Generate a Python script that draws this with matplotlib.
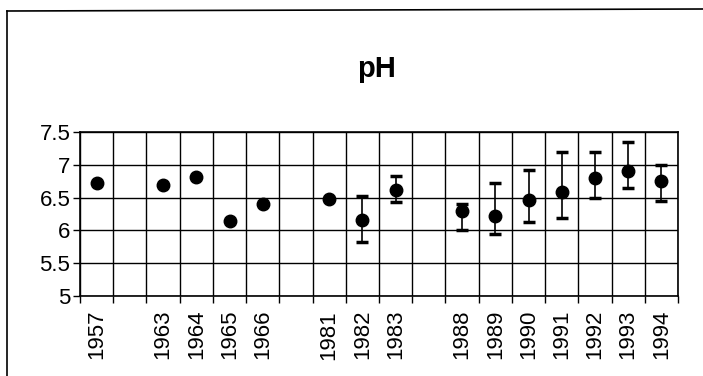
import matplotlib.pyplot as plt
import numpy as np
from matplotlib.lines import Line2D

# categories ('' = empty slot on the axis)
years = ['1957', '', '1963', '1964', '1965', '1966', '', '1981', '1982', '1983', '',
         '1988', '1989', '1990', '1991', '1992', '1993', '1994']
ph_mean = [6.72, np.nan, 6.69, 6.81, 6.14, 6.40, np.nan, 6.48, 6.16, 6.61, np.nan,
           6.29, 6.22, 6.46, 6.59, 6.80, 6.91, 6.75]
ph_low = [6.72, np.nan, 6.69, 6.81, 6.14, 6.40, np.nan, 6.46, 5.82, 6.43, np.nan,
          6.01, 5.95, 6.13, 6.19, 6.49, 6.65, 6.45]
ph_high = [6.72, np.nan, 6.69, 6.81, 6.14, 6.40, np.nan, 6.50, 6.52, 6.83, np.nan,
           6.41, 6.73, 6.92, 7.19, 7.19, 7.35, 6.99]

plt.rcParams['font.family'] = ['Liberation Sans', 'DejaVu Sans']

fig = plt.figure(figsize=(7.03, 3.76), dpi=100)
ax = fig.add_axes([80 / 703, 1 - 296 / 376, 598 / 703, 164 / 376])

x = np.arange(len(years))
mean = np.array(ph_mean)
yerr = np.vstack([mean - np.array(ph_low), np.array(ph_high) - mean])

ax.errorbar(x, mean, yerr=yerr, fmt='o', color='black', markersize=9,
            ecolor='black', elinewidth=1.2, capsize=4.3, capthick=2.5, zorder=3)

ax.set_xlim(-0.5, len(years) - 0.5)
ax.set_ylim(5, 7.5)
ax.set_yticks(np.arange(5, 7.51, 0.5))
ax.set_yticklabels(['5', '5.5', '6', '6.5', '7', '7.5'], fontsize=16)

ax.set_xticks(x)
ax.set_xticklabels(years, rotation=90, fontsize=16)
ax.set_xticks(np.arange(-0.5, len(years), 1), minor=True)
ax.tick_params(axis='x', which='major', length=0, pad=10)
ax.tick_params(axis='x', which='minor', length=5, width=1, direction='out')
ax.tick_params(axis='y', length=5, width=1, pad=2)

ax.grid(True, which='minor', axis='x', color='black', linewidth=1)
ax.grid(True, which='major', axis='y', color='black', linewidth=1)
for s in ax.spines.values():
    s.set_linewidth(1.2)

fig.text(377 / 703, 1 - 77 / 376, 'pH', ha='center', va='baseline',
         fontsize=21, fontweight='bold')

# outer frame of the scanned figure (left and top edges only visible)
fig.add_artist(Line2D([7 / 703, 7 / 703], [0, 1 - 11 / 376], transform=fig.transFigure,
                      color='black', linewidth=1.2))
fig.add_artist(Line2D([7 / 703, 1], [1 - 11 / 376, 1 - 9 / 376], transform=fig.transFigure,
                      color='black', linewidth=1.2))

plt.savefig('out.png', dpi=100)
